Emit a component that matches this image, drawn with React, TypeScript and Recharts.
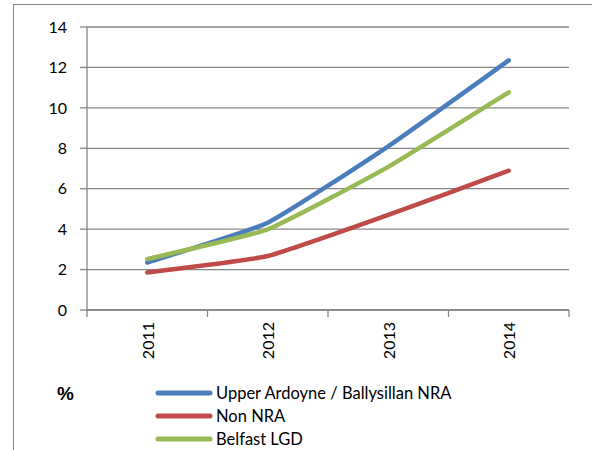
import React from "react";
import { LineChart, Line, XAxis, YAxis, CartesianGrid, Legend } from "recharts";

const years = ["2011", "2012", "2013", "2014"];
const upperArdoyne = [2.35, 4.32, 8.1, 12.35];
const nonNRA = [1.86, 2.67, 4.7, 6.89];
const belfastLGD = [2.52, 3.99, 7.08, 10.77];
const yTicks = [0, 2, 4, 6, 8, 10, 12, 14];

const seriesNames = ["Upper Ardoyne / Ballysillan NRA", "Non NRA", "Belfast LGD"];
const seriesKeys = ["upper", "non", "belfast"];
const seriesColors = ["#4A7EBB", "#BE4B48", "#98B954"];

const data = years.map((year, i) => ({
  x: i + 0.5,
  year,
  upper: upperArdoyne[i],
  non: nonNRA[i],
  belfast: belfastLGD[i],
}));

const xTicks: number[] = [];
for (let i = 0; i <= years.length; i++) {
  xTicks.push(i);
  if (i < years.length) xTicks.push(i + 0.5);
}

const FONT = "Lato, 'Open Sans', sans-serif";
const GRAY = "#868686";
const SMOOTH = 0.07;

// Lightly smoothed line (Excel-like rounding at the vertices)
function excelSmooth(context: any) {
  let pts: [number, number][] = [];
  return {
    areaStart() {},
    areaEnd() {},
    lineStart() {
      pts = [];
    },
    lineEnd() {
      if (!pts.length) return;
      context.moveTo(pts[0][0], pts[0][1]);
      for (let i = 0; i < pts.length - 1; i++) {
        const p0 = pts[Math.max(0, i - 1)];
        const p1 = pts[i];
        const p2 = pts[i + 1];
        const p3 = pts[Math.min(pts.length - 1, i + 2)];
        const c1x = p1[0] + (p2[0] - p0[0]) * SMOOTH;
        const c1y = p1[1] + (p2[1] - p0[1]) * SMOOTH;
        const c2x = p2[0] - (p3[0] - p1[0]) * SMOOTH;
        const c2y = p2[1] - (p3[1] - p1[1]) * SMOOTH;
        context.bezierCurveTo(c1x, c1y, c2x, c2y, p2[0], p2[1]);
      }
    },
    point(x: number, y: number) {
      pts.push([+x, +y]);
    },
  };
}

const XTick = (props: any) => {
  const { x, y, payload } = props;
  const v = payload.value as number;
  if (Number.isInteger(v)) {
    return <line x1={x} y1={y} x2={x} y2={y + 7} stroke={GRAY} strokeWidth={1.3} />;
  }
  const label = years[Math.floor(v)];
  return (
    <text
      x={x}
      y={y + 12}
      transform={`rotate(-90, ${x}, ${y + 12})`}
      textAnchor="end"
      dominantBaseline="central"
      fontFamily={FONT}
      fontSize={16}
      fill="#000"
    >
      {label}
    </text>
  );
};

const LegendContent = () => (
  <div style={{ fontFamily: FONT, fontSize: 16.5, color: "#000" }}>
    {seriesNames.map((n, i) => (
      <div key={n} style={{ display: "flex", alignItems: "center", height: 23 }}>
        <svg width={58} height={8} style={{ marginRight: 3 }}>
          <line x1={3} y1={4} x2={55} y2={4} stroke={seriesColors[i]} strokeWidth={5} strokeLinecap="round" />
        </svg>
        <span>{n}</span>
      </div>
    ))}
  </div>
);

export default function App() {
  return (
    <div style={{ position: "absolute", left: 0, top: 0, width: 592, height: 450, overflow: "hidden", background: "#fff" }}>
      <div
        style={{
          position: "absolute",
          left: 13,
          top: 4,
          width: 620,
          height: 480,
          border: `1.5px solid ${GRAY}`,
          boxSizing: "border-box",
        }}
      />
      <div
        style={{
          position: "absolute",
          left: 57,
          top: 383,
          fontFamily: "Arial, 'Liberation Sans', sans-serif",
          fontWeight: "bold",
          fontSize: 19,
        }}
      >
        %
      </div>
      <div style={{ position: "absolute", left: 0, top: 0 }}>
        <LineChart width={592} height={450} data={data} margin={{ top: 27, right: 23, left: 0, bottom: 80 }}>
          <CartesianGrid vertical={false} stroke={GRAY} strokeWidth={1.3} />
          <XAxis
            dataKey="x"
            type="number"
            domain={[0, years.length]}
            ticks={xTicks}
            interval={0}
            tickLine={false}
            tickSize={0}
            tickMargin={0}
            axisLine={{ stroke: GRAY, strokeWidth: 1.3 }}
            tick={<XTick />}
            height={60}
          />
          <YAxis
            domain={[0, 14]}
            ticks={yTicks}
            interval={0}
            width={87}
            tickSize={7}
            tickMargin={13}
            axisLine={{ stroke: GRAY, strokeWidth: 1.3 }}
            tickLine={{ stroke: GRAY, strokeWidth: 1.3 }}
            tick={{ fontFamily: FONT, fontSize: 16, fill: "#000" }}
          />
          {seriesKeys.map((k, i) => (
            <Line
              key={k}
              dataKey={k}
              name={seriesNames[i]}
              type={excelSmooth as any}
              stroke={seriesColors[i]}
              strokeWidth={4.5}
              strokeLinecap="round"
              strokeLinejoin="round"
              dot={false}
              isAnimationActive={false}
            />
          ))}
          <Legend
            layout="vertical"
            align="center"
            verticalAlign="middle"
            content={<LegendContent />}
            wrapperStyle={{ position: "absolute", left: 155, top: 381, width: 360, height: 70 }}
          />
        </LineChart>
      </div>
    </div>
  );
}
